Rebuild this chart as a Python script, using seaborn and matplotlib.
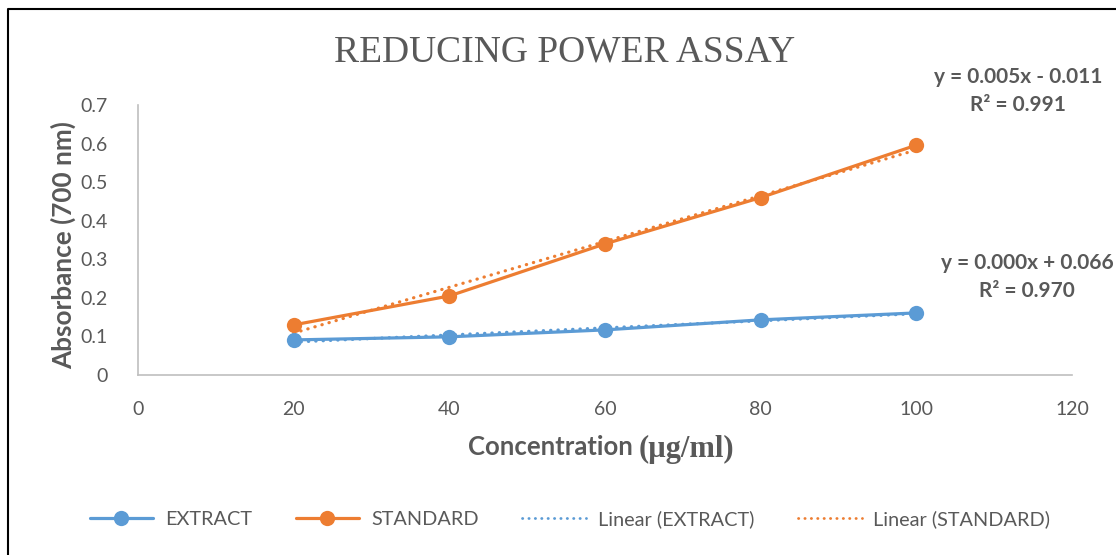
import matplotlib.pyplot as plt
import matplotlib.lines as mlines
import seaborn as sns
import numpy as np
import pandas as pd

# values
concentration = [20, 40, 60, 80, 100]
extract = [0.091, 0.099, 0.117, 0.143, 0.161]
standard = [0.130, 0.205, 0.340, 0.460, 0.596]
x_ticks = [0, 20, 40, 60, 80, 100, 120]
y_ticks = [0, 0.1, 0.2, 0.3, 0.4, 0.5, 0.6, 0.7]

BLUE = "#5B9BD5"
ORANGE = "#ED7D31"
GREY = "#595959"
SANS = ["Lato", "DejaVu Sans"]
SERIF = ["Liberation Serif", "DejaVu Serif"]
DOTS = (0, (0.1, 2.2))


def plot_chart(filename):
    sns.set_style("white")
    plt.rcParams["font.family"] = SANS

    df = pd.DataFrame({"Concentration": concentration,
                       "EXTRACT": extract, "STANDARD": standard})

    fig = plt.figure(figsize=(11.16, 5.55), dpi=100)
    ax = fig.add_axes([0.1237, 0.3243, 0.8369, 0.4865])

    for name, color in [("EXTRACT", BLUE), ("STANDARD", ORANGE)]:
        sns.lineplot(data=df, x="Concentration", y=name, ax=ax, color=color,
                     linewidth=2.3, marker="o", markersize=11,
                     markeredgewidth=0, zorder=3)
        # linear trendline from the same points
        slope, icpt = np.polyfit(df["Concentration"], df[name], 1)
        xs = np.array([concentration[0], concentration[-1]])
        ax.plot(xs, slope * xs + icpt, color=color, linewidth=2.3,
                linestyle=DOTS, dash_capstyle="round", zorder=2)

    ax.set_xlim(0, 120)
    ax.set_ylim(0, 0.7)
    ax.set_xticks(x_ticks)
    ax.set_yticks(y_ticks)
    ax.set_yticklabels([f"{v:g}" for v in y_ticks])
    ax.tick_params(axis="both", length=0, labelsize=14, labelcolor=GREY)
    ax.tick_params(axis="x", pad=19)
    ax.tick_params(axis="y", pad=22)
    for side in ["top", "right"]:
        ax.spines[side].set_visible(False)
    for side in ["left", "bottom"]:
        ax.spines[side].set_color("#BFBFBF")
        ax.spines[side].set_linewidth(1.2)

    ax.set_xlabel("")
    ax.set_ylabel("")
    fig.text(63 / 1116, 1 - 245 / 555, "Absorbance (700 nm)", rotation=90,
             ha="center", va="center", fontsize=18.8, fontweight="bold",
             color=GREY)

    fig.text(565 / 1116, 1 - 52 / 555, "REDUCING POWER ASSAY", ha="center",
             va="center", family=SERIF, fontsize=27, color=GREY)

    # x label: sans word plus serif unit
    fig.text(639 / 1116, 1 - 447 / 555, "Concentration ", ha="right",
             va="center", fontsize=18.5, fontweight="bold", color=GREY)
    fig.text(639 / 1116, 1 - 449 / 555, "(\u00b5g/ml)", ha="left",
             va="center", family=SERIF, fontsize=22, fontweight="bold",
             color=GREY)

    fig.text(1018 / 1116, 1 - 91 / 555, "y = 0.005x - 0.011\nR\u00b2 = 0.991",
             ha="center", va="center", fontsize=15, fontweight="bold",
             color=GREY, linespacing=1.45)
    fig.text(1027 / 1116, 1 - 277 / 555, "y = 0.000x + 0.066\nR\u00b2 = 0.970",
             ha="center", va="center", fontsize=15, fontweight="bold",
             color=GREY, linespacing=1.45)

    handles = [
        mlines.Line2D([], [], color=BLUE, linewidth=2.3, marker="o",
                      markersize=11, markeredgewidth=0, label="EXTRACT"),
        mlines.Line2D([], [], color=ORANGE, linewidth=2.3, marker="o",
                      markersize=11, markeredgewidth=0, label="STANDARD"),
        mlines.Line2D([], [], color=BLUE, linewidth=2, linestyle=DOTS,
                      dash_capstyle="round", label="Linear (EXTRACT)"),
        mlines.Line2D([], [], color=ORANGE, linewidth=2, linestyle=DOTS,
                      dash_capstyle="round", label="Linear (STANDARD)"),
    ]
    leg = fig.legend(handles=handles, loc="center", ncol=4,
                     bbox_to_anchor=(570 / 1116, 1 - 519 / 555), frameon=False,
                     fontsize=14.3, handlelength=3.2, columnspacing=2.2,
                     handletextpad=0.6)
    for t in leg.get_texts():
        t.set_color(GREY)

    # outer chart frame (top and left edges visible in the crop)
    fig.add_artist(mlines.Line2D([8 / 1116, 8 / 1116, 1], [0, 1 - 9 / 555, 1 - 9 / 555],
                                 transform=fig.transFigure, color="black",
                                 linewidth=1.5))

    fig.savefig(filename, dpi=100)
    plt.close(fig)


if __name__ == "__main__":
    plot_chart("out.png")
